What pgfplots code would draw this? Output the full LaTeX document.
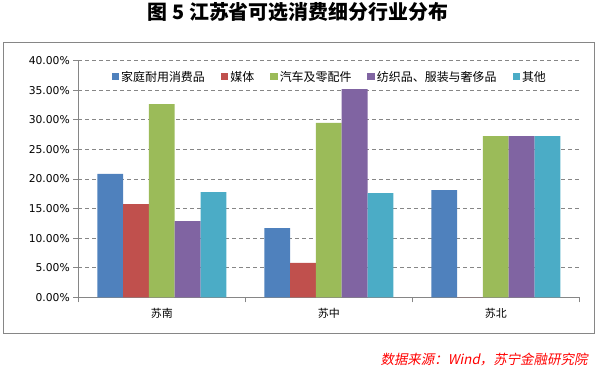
\documentclass[border=0pt]{standalone}
\usepackage{pgfplots}
\pgfplotsset{compat=1.18}
\usepackage{fontspec}
\setmainfont{DejaVu Sans}
\newfontfamily\cjk{Noto Sans CJK SC}
\newfontfamily\cjkit[FakeSlant=0.2]{Noto Sans CJK SC}
\definecolor{c1}{HTML}{4F81BD}
\definecolor{c2}{HTML}{C0504D}
\definecolor{c3}{HTML}{9BBB59}
\definecolor{c4}{HTML}{8064A2}
\definecolor{c5}{HTML}{4BACC6}
\definecolor{framegray}{HTML}{868686}
\begin{document}
\begin{tikzpicture}[x=1bp,y=1bp]
\path[use as bounding box] (0,0) rectangle (597,367);
\draw[framegray, line width=1bp] (3,34) rectangle (594,325);
\node[font=\cjk\bfseries\fontsize{20}{24}\selectfont] at (298,355) {图 5 江苏省可选消费细分行业分布};
\node[anchor=east, text=red, font=\cjkit\fontsize{13.5}{15}\selectfont] at (591,7.5) {数据来源：Wind，苏宁金融研究院};
\begin{axis}[
  at={(78.3bp,69.7bp)}, anchor=south west, scale only axis,
  width=501bp, height=236.6bp,
  ybar=0pt, bar width=25.8bp,
  xmin=-0.5, xmax=2.5, ymin=0, ymax=40,
  axis x line*=bottom, axis y line*=left,
  axis line style={framegray, line width=0.8bp},
  tick style={framegray, line width=0.8bp},
  tick align=outside, major tick length=5bp,
  ytick={0,5,...,40},
  yticklabel={\pgfmathprintnumber[fixed,fixed zerofill,precision=2,assume math mode=true]{\tick}\%},
  yticklabel style={font=\fontsize{10.8}{12}\selectfont},
  ymajorgrids, grid style={dash pattern=on 4bp off 3bp, framegray, line width=0.8bp},
  xtick={-0.5,0.5,1.5,2.5}, xticklabels={},
  extra x ticks={0,1,2},
  extra x tick labels={苏南,苏中,苏北},
  extra x tick style={major tick length=0pt, xticklabel style={font=\cjk\fontsize{11}{13}\selectfont, yshift=-7bp}},
  legend columns=5,
  legend style={draw=none, fill=none, at={(0.502,0.932)}, anchor=center,
    font=\cjk\fontsize{12}{14}\selectfont,
    /tikz/every even column/.append style={column sep=14bp}},
  every axis plot/.append style={draw=none, legend image code/.code={\fill[##1] (0bp,-3.7bp) rectangle (7.5bp,3.8bp);}},
]
\addplot[fill=c1] coordinates {(0,20.85) (1,11.7) (2,18.1)};
\addplot[fill=c2] coordinates {(0,15.77) (1,5.8) (2,0)};
\addplot[fill=c3] coordinates {(0,32.68) (1,29.5) (2,27.27)};
\addplot[fill=c4] coordinates {(0,12.9) (1,35.2) (2,27.27)};
\addplot[fill=c5] coordinates {(0,17.8) (1,17.6) (2,27.27)};
\legend{家庭耐用消费品,媒体,汽车及零配件,纺织品、服装与奢侈品,其他}
\end{axis}
\end{tikzpicture}
\end{document}
